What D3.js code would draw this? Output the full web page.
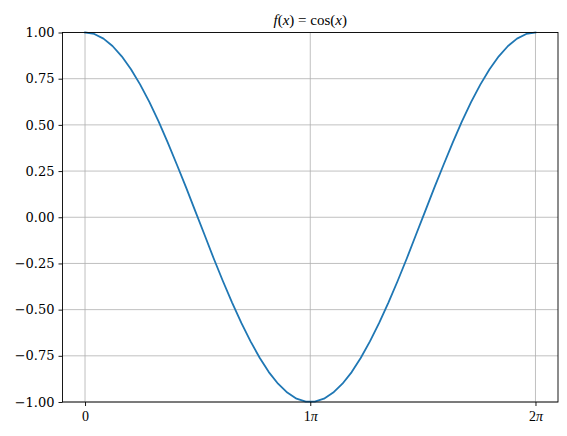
<!DOCTYPE html>
<html>
<head>
<meta charset="utf-8">
<script src="https://cdn.jsdelivr.net/npm/d3@7"></script>
<style>
  body { margin: 0; background: #fff; }
  svg { display: block; }
  .tick text { font-family: "DejaVu Serif", serif; font-size: 13px; fill: #000; }
</style>
</head>
<body>
<div id="chart"></div>
<script>
// x positions in units of pi
const xPi = [0, 0.041, 0.082, 0.122, 0.163, 0.204, 0.245, 0.286, 0.327, 0.367,
  0.408, 0.449, 0.490, 0.531, 0.571, 0.612, 0.653, 0.694, 0.735, 0.776,
  0.816, 0.857, 0.898, 0.939, 0.980, 1.020, 1.061, 1.102, 1.143, 1.184,
  1.224, 1.265, 1.306, 1.347, 1.388, 1.429, 1.469, 1.510, 1.551, 1.592,
  1.633, 1.673, 1.714, 1.755, 1.796, 1.837, 1.878, 1.918, 1.959, 2.000];
const yVals = [1.000, 0.992, 0.967, 0.927, 0.871, 0.801, 0.718, 0.623, 0.518, 0.405,
  0.284, 0.160, 0.032, -0.096, -0.222, -0.345, -0.462, -0.572, -0.672, -0.762,
  -0.838, -0.901, -0.949, -0.982, -0.998, -0.998, -0.982, -0.949, -0.901, -0.838,
  -0.762, -0.672, -0.572, -0.462, -0.345, -0.222, -0.096, 0.032, 0.160, 0.284,
  0.405, 0.518, 0.623, 0.718, 0.801, 0.871, 0.927, 0.967, 0.992, 1.000];
const xTicks = [0, 1, 2];
const xTickLabels = ["0", "1", "2"];
const yTicks = [-1, -0.75, -0.5, -0.25, 0, 0.25, 0.5, 0.75, 1];

const width = 567, height = 436;
const margin = { top: 32.5, right: 9, bottom: 34, left: 62.5 };
const w = width - margin.left - margin.right;
const h = height - margin.top - margin.bottom;

const svg = d3.select("#chart").append("svg")
  .attr("width", width)
  .attr("height", height);

const g = svg.append("g")
  .attr("transform", `translate(${margin.left},${margin.top})`);

const x = d3.scaleLinear().domain([-0.1, 2.1]).range([0, w]);
const y = d3.scaleLinear().domain([-1, 1]).range([h, 0]);

// grid
g.append("g").selectAll("line.gy")
  .data(yTicks).enter().append("line")
  .attr("x1", 0).attr("x2", w)
  .attr("y1", d => y(d)).attr("y2", d => y(d))
  .attr("stroke", "#b0b0b0").attr("stroke-width", 0.8);
g.append("g").selectAll("line.gx")
  .data(xTicks).enter().append("line")
  .attr("x1", d => x(d)).attr("x2", d => x(d))
  .attr("y1", 0).attr("y2", h)
  .attr("stroke", "#b0b0b0").attr("stroke-width", 0.8);

// curve
const line = d3.line()
  .x((d, i) => x(xPi[i]))
  .y(d => y(d));
g.append("path")
  .datum(yVals)
  .attr("fill", "none")
  .attr("stroke", "#1f77b4")
  .attr("stroke-width", 1.8)
  .attr("stroke-linejoin", "round")
  .attr("stroke-linecap", "square")
  .attr("d", line);

// axes
const yAxis = g.append("g")
  .call(d3.axisLeft(y).tickValues(yTicks).tickSize(4).tickPadding(4)
    .tickFormat(d => d3.format(".2f")(d).replace("-", "\u2212")));
const xAxis = g.append("g")
  .attr("transform", `translate(0,${h})`)
  .call(d3.axisBottom(x).tickValues(xTicks).tickSize(4).tickPadding(5)
    .tickFormat((d, i) => xTickLabels[i]));

[xAxis, yAxis].forEach(a => {
  a.select(".domain").remove();
  a.selectAll(".tick line").attr("stroke", "#000").attr("stroke-width", 0.9);
});

// pi symbols after the multiples
xAxis.selectAll(".tick text")
  .style("font-family", "'Liberation Serif', serif")
  .style("font-size", "14px")
  .each(function (d, i) {
    if (d === 0) return;
    d3.select(this).append("tspan")
      .style("font-style", "italic")
      .text("\u03c0");
  });

// frame
g.append("rect")
  .attr("width", w).attr("height", h)
  .attr("fill", "none").attr("stroke", "#000").attr("stroke-width", 0.9);

// title
const title = svg.append("text")
  .attr("x", margin.left + w / 2)
  .attr("y", 25)
  .attr("text-anchor", "middle")
  .style("font-family", "'Liberation Serif', serif")
  .style("font-size", "15px");
title.append("tspan").style("font-style", "italic").text("f");
title.append("tspan").text("(");
title.append("tspan").style("font-style", "italic").text("x");
title.append("tspan").text(") = cos(");
title.append("tspan").style("font-style", "italic").text("x");
title.append("tspan").text(")");
</script>
</body>
</html>
